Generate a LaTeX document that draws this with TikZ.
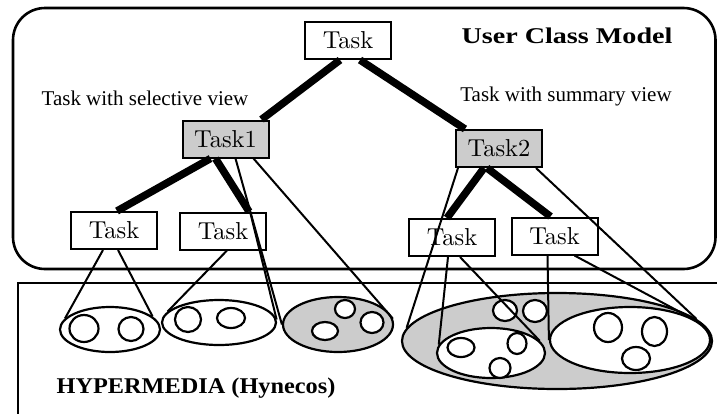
\documentclass[tikz,border=0pt]{standalone}
\usepackage{fontspec}
\usepackage{graphicx}
\usetikzlibrary{shapes.geometric}
\newfontfamily\timesfont{Liberation Serif}
\newfontfamily\taskfont{lmroman10-regular.otf}
\tikzset{
    taskbox/.style={draw, line width=2pt, fill=white, minimum width=86pt, minimum height=37pt, inner sep=0pt, font=\taskfont\fontsize{24.5}{28}\selectfont},
    viewbox/.style={taskbox, fill=black!20},
    tree/.style={line width=7.5pt},
    cone/.style={line width=2pt},
    blob/.style={draw, ellipse, line width=2.2pt, inner sep=0pt},
    caption/.style={font=\timesfont\fontsize{21}{24}\selectfont},
    heading/.style={font=\timesfont\bfseries\fontsize{22.5}{26}\selectfont}
}
\begin{document}
\begin{tikzpicture}[x=1pt, y=-1pt]
        \clip (0,0) rectangle (717,413);
        \draw[line width=2.6pt, rounded corners=32pt] (13,8) rectangle (715.5,269);
        \draw[line width=2pt] (18,283) rectangle (740,430);
        \node[taskbox] (top) at (348,40.5) {Task};
        \node[viewbox] (t1) at (225.5,139) {Task1};
        \node[viewbox] (t2) at (499,148.5) {Task2};
        \node[taskbox] (a) at (114,230.5) {Task};
        \node[taskbox] (b) at (223,231) {Task};
        \node[taskbox] (c) at (452,237.5) {Task};
        \node[taskbox] (d) at (554.5,236) {Task};
        \node[caption] (sel) at (145,98) {Task with selective view};
        \node[caption] (sum) at (566,96) {Task with summary view};
        \node[heading] (ucm) at (567,36) {\scalebox{1.25}[1]{User Class Model}};
        \node[heading] (hyp) at (196,388) {\scalebox{1.08}[1]{HYPERMEDIA (Hynecos)}};
        \node[blob, minimum width=100pt, minimum height=45pt] (e1) at (110,329.5) {};
        \node[blob, minimum width=114pt, minimum height=45pt] (e2) at (219,322.5) {};
        \node[blob, fill=black!20, minimum width=110pt, minimum height=55pt] (e3) at (338,324.5) {};
        \node[blob, fill=black!20, minimum width=310pt, minimum height=96pt] (e4) at (557,341) {};
        \node[blob, fill=white, minimum width=108pt, minimum height=50pt] (e5) at (491,353) {};
        \node[blob, fill=white, minimum width=160pt, minimum height=66pt] (e6) at (630,340) {};
        \foreach \x/\y/\rx/\ry in {84/328.5/14.5/13.5, 131/329/12.5/12, 188/319.5/13/12.5, 231/318/14/10,
            345/309/10/9, 372/322.5/11.5/10.5, 325/331/13/9, 505/310.5/12/10.5, 535/311/12/11,
            461/347.5/13.5/9.5, 517/343.5/9.5/10.5, 500/368/10.5/10,
            608/327.5/14/14.5, 654.5/331.5/12.5/14.5, 636/358.5/14/11.5}
            \draw[line width=2.2pt, fill=white] (\x,\y) ellipse [x radius=\rx pt, y radius=\ry pt];
        \draw[tree] ([xshift=-8pt]top.south) -- ([xshift=36pt]t1.north);
        \draw[tree] ([xshift=12pt]top.south) -- ([xshift=-34pt]t2.north);
        \draw[tree] ([xshift=-15pt]t1.south) -- ([xshift=3pt]a.north);
        \draw[tree] ([xshift=-10pt]t1.south) -- ([xshift=26pt]b.north);
        \draw[tree] ([xshift=-15pt]t2.south) -- ([xshift=-5pt]c.north);
        \draw[tree] ([xshift=-12pt]t2.south) -- ([xshift=-4pt]d.north);
        \draw[cone] ([xshift=-11pt]a.south) -- (e1.166);
        \draw[cone] ([xshift=4pt]a.south) -- (e1.17);
        \draw[cone] ([xshift=4pt]b.south) -- (e2.168);
        \draw[cone] ([xshift=27pt]b.north) -- (e2.3);
        \draw[cone] ([xshift=10pt]t1.south) -- (e3.180);
        \draw[cone] ([xshift=28pt]t1.south) -- (e3.6);
        \draw[cone] ([xshift=-41pt]t2.south) -- (e4.175);
        \draw[cone] ([xshift=37pt]t2.south) -- (e4.9);
        \draw[cone] ([xshift=-4pt]c.south) -- (e5.171);
        \draw[cone] ([xshift=8pt]c.south) -- (e5.14);
        \draw[cone] ([xshift=-7pt]d.south) -- (e6.180);
        \draw[cone] ([xshift=20pt]d.south) -- (e6.23);
    \end{tikzpicture}
\end{document}
